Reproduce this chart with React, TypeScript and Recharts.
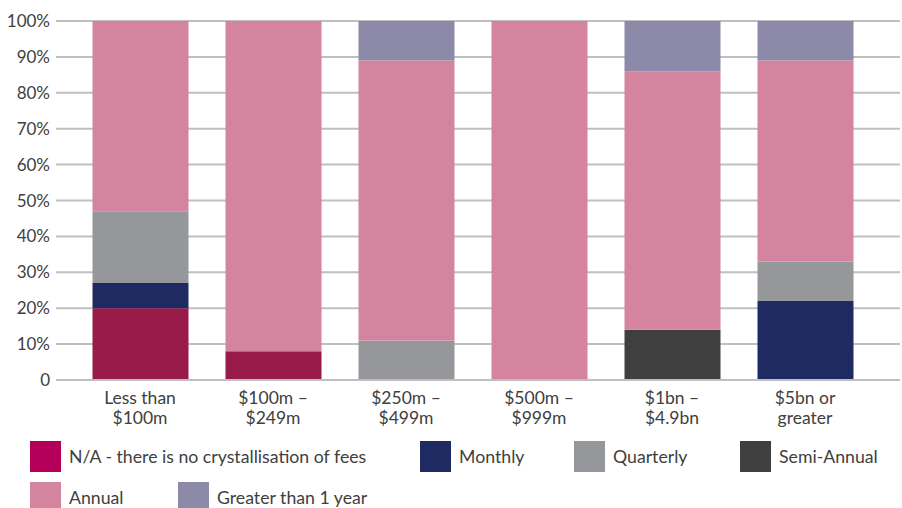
import { BarChart, Bar, XAxis, YAxis, CartesianGrid } from "recharts";

const categories = [
  "Less than\n$100m",
  "$100m –\n$249m",
  "$250m –\n$499m",
  "$500m –\n$999m",
  "$1bn –\n$4.9bn",
  "$5bn or\ngreater",
];

const naValues = [20, 8, 0, 0, 0, 0];
const monthlyValues = [7, 0, 0, 0, 0, 22];
const quarterlyValues = [20, 0, 11, 0, 0, 11];
const semiAnnualValues = [0, 0, 0, 0, 14, 0];
const annualValues = [53, 92, 78, 100, 72, 56];
const greaterValues = [0, 0, 11, 0, 14, 11];

const yTicks = [0, 10, 20, 30, 40, 50, 60, 70, 80, 90, 100];

const series = [
  { key: "na", name: "N/A - there is no crystallisation of fees", values: naValues, color: "#991b4a", legendColor: "#b5005a" },
  { key: "monthly", name: "Monthly", values: monthlyValues, color: "#202a62", legendColor: "#202a62" },
  { key: "quarterly", name: "Quarterly", values: quarterlyValues, color: "#96979b", legendColor: "#96979b" },
  { key: "semi", name: "Semi-Annual", values: semiAnnualValues, color: "#3f3f3f", legendColor: "#3f3f3f" },
  { key: "annual", name: "Annual", values: annualValues, color: "#d4849e", legendColor: "#d4849e" },
  { key: "greater", name: "Greater than 1 year", values: greaterValues, color: "#8c8aa8", legendColor: "#8c8aa8" },
];

const data = categories.map((name, i) => {
  const row: Record<string, string | number> = { name };
  series.forEach((s) => {
    row[s.key] = s.values[i];
  });
  return row;
});

const FONT = "Lato, 'Open Sans', sans-serif";
const TEXT = "#404040";

// legend placement, row by row
const legendSpots = [
  { left: 30, top: 441 },
  { left: 420, top: 441 },
  { left: 574, top: 441 },
  { left: 740, top: 441 },
  { left: 30, top: 482 },
  { left: 178, top: 482 },
];

const XTick = (props: any) => {
  const { x, y, payload } = props;
  const lines = String(payload.value).split("\n");
  return (
    <text x={x} y={y} textAnchor="middle" fill={TEXT} fontSize={17.5} fontFamily={FONT}>
      {lines.map((l, i) => (
        <tspan key={i} x={x} dy={i === 0 ? 16 : 20}>
          {l}
        </tspan>
      ))}
    </text>
  );
};

const YTick = (props: any) => {
  const { y, payload } = props;
  return (
    <text x={50} y={y} dy={6} textAnchor="end" fill={TEXT} fontSize={17} fontFamily={FONT}>
      {payload.value === 0 ? "0" : `${payload.value}%`}
    </text>
  );
};

export default function App() {
  return (
    <div style={{ position: "absolute", left: 0, top: 0, width: 902, height: 508, background: "#fff" }}>
      <BarChart
        width={902}
        height={508}
        data={data}
        margin={{ top: 21, right: 2, left: 0, bottom: 0 }}
      >
        <CartesianGrid vertical={false} stroke="#bfbfbf" strokeWidth={2} />
        <XAxis
          dataKey="name"
          height={128}
          interval={0}
          tick={<XTick />}
          tickLine={false}
          axisLine={{ stroke: "#bfbfbf", strokeWidth: 2 }}
          padding={{ left: 17.5, right: 28.5 }}
        />
        <YAxis
          width={56}
          domain={[0, 100]}
          ticks={yTicks}
          tick={<YTick />}
          tickLine={false}
          axisLine={false}
          allowDataOverflow
        />
        {series.map((s) => (
          <Bar
            key={s.key}
            dataKey={s.key}
            name={s.name}
            stackId="a"
            fill={s.color}
            barSize={96}
            isAnimationActive={false}
          />
        ))}
      </BarChart>
      {series.map((s, i) => (
        <div
          key={s.key}
          style={{
            position: "absolute",
            left: legendSpots[i].left,
            top: legendSpots[i].top,
            display: "flex",
            alignItems: "center",
            fontFamily: FONT,
            fontSize: 17.7,
            color: TEXT,
            whiteSpace: "nowrap",
          }}
        >
          <span style={{ width: 31, height: 31, background: s.legendColor, display: "inline-block", marginRight: 8 }} />
          {s.name}
        </div>
      ))}
    </div>
  );
}
